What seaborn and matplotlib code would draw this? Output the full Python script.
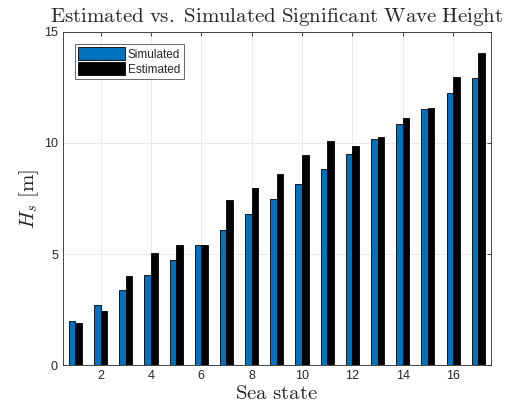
import numpy as np
import pandas as pd
import seaborn as sns
import matplotlib.pyplot as plt

# ---------- DATA ----------
sea_states = list(range(1, 18))
simulated = [2.01, 2.70, 3.39, 4.06, 4.74, 5.41, 6.10, 6.79, 7.47,
             8.14, 8.82, 9.51, 10.19, 10.87, 11.54, 12.23, 12.91]
estimated = [1.89, 2.44, 4.02, 5.07, 5.41, 5.40, 7.45, 7.96, 8.59,
             9.48, 10.09, 9.87, 10.25, 11.11, 11.59, 12.97, 14.05]
x_ticks = [2, 4, 6, 8, 10, 12, 14, 16]
y_ticks = [0, 5, 10, 15]

df = pd.DataFrame({
    "state": sea_states * 2,
    "Hs": simulated + estimated,
    "kind": ["Simulated"] * len(sea_states) + ["Estimated"] * len(sea_states),
})

# ---------- STYLE ----------
sns.set_style("white")
plt.rcParams["mathtext.fontset"] = "cm"
plt.rcParams["font.family"] = ["Liberation Sans", "DejaVu Sans"]

fig = plt.figure(figsize=(5.11, 4.13), dpi=100)
ax = fig.add_axes([0.123, 0.1155, 0.8375, 0.8075])

# ---------- PLOT ----------
sns.barplot(data=df, x="state", y="Hs", hue="kind", ax=ax,
            palette={"Simulated": "#0072BD", "Estimated": "#000000"},
            width=0.52, gap=0, edgecolor="black", linewidth=0.6,
            errorbar=None, saturation=1)

ax.set_xlim(-0.5, 16.5)
ax.set_ylim(0, 15)
ax.set_xticks([t - 1 for t in x_ticks])
ax.set_xticklabels([str(t) for t in x_ticks])
ax.set_yticks(y_ticks)
ax.tick_params(axis="both", direction="in", length=3, labelsize=9,
               colors="#262626", top=True, right=True, width=0.6)
ax.grid(True, color="#e6e6e6", linewidth=0.6)
ax.set_axisbelow(True)
for s in ax.spines.values():
    s.set_color("#262626")
    s.set_linewidth(0.6)

ax.set_title(r"$\mathrm{Estimated\ vs.\ Simulated\ Significant\ Wave\ Height}$",
             fontsize=15, pad=7)
ax.set_xlabel(r"$\mathrm{Sea\ state}$", fontsize=15, labelpad=1)
ax.set_ylabel(r"$H_s\ \mathrm{[m]}$", fontsize=15, labelpad=2)

leg = ax.legend(loc="upper left", fontsize=8.5, frameon=True, fancybox=False,
                handlelength=4.0, handleheight=1.3, borderpad=0.3,
                labelspacing=0.15, handletextpad=0.2, borderaxespad=1.0)
leg.get_frame().set_edgecolor("#262626")
leg.get_frame().set_linewidth(0.6)

plt.savefig("out.png", dpi=100)
